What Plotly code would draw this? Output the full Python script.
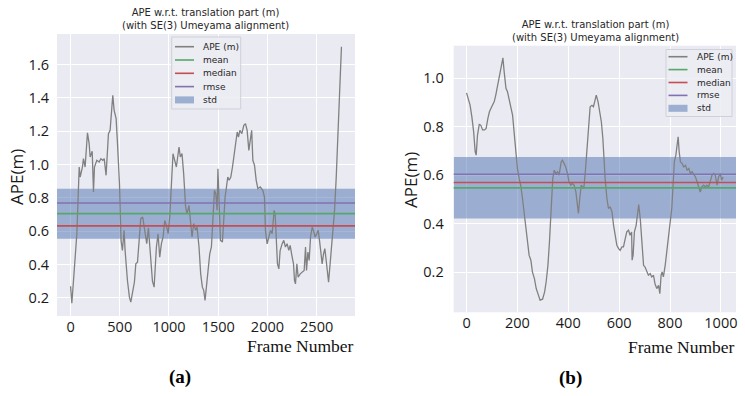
import plotly.graph_objects as go

# ---------------- data ----------------
frames_a = [0, 13, 30, 64, 88, 98, 121, 131, 148, 172, 189, 199, 220, 233, 243, 267, 291, 308, 328, 342,
            361, 385, 402, 415, 429, 443, 463, 477, 497, 513, 527, 544, 554, 578, 598, 612, 632, 649, 663,
            680, 697, 713, 733, 754, 774, 791, 808, 820, 832, 849, 872, 889, 906, 923, 940, 957, 974, 991,
            1008, 1025, 1041, 1058, 1075, 1102, 1115, 1132, 1149, 1169, 1183, 1203, 1217, 1234, 1251, 1271,
            1285, 1305, 1322, 1339, 1353, 1366, 1380, 1397, 1414, 1431, 1448, 1462, 1475, 1489, 1497, 1509,
            1523, 1543, 1556, 1570, 1584, 1597, 1611, 1628, 1645, 1662, 1679, 1693, 1706, 1720, 1740, 1760,
            1777, 1794, 1811, 1828, 1840, 1852, 1869, 1886, 1903, 1927, 1953, 1970, 1980, 1997, 2014, 2031,
            2048, 2068, 2078, 2089, 2102, 2116, 2129, 2150, 2166, 2183, 2200, 2217, 2231, 2248, 2265, 2275,
            2285, 2299, 2312, 2333, 2353, 2373, 2387, 2397, 2411, 2424, 2438, 2455, 2472, 2485, 2502, 2516,
            2529, 2543, 2556, 2570, 2583, 2597, 2610, 2621, 2634, 2648, 2665, 2682, 2699, 2716, 2733, 2752]
ape_a = [0.27, 0.168, 0.304, 0.584, 0.985, 0.925, 0.985, 1.035, 0.985, 1.19, 1.125, 1.045, 1.08, 0.835,
         0.985, 1.025, 1.015, 1.035, 1.025, 1.035, 0.935, 1.185, 1.205, 1.325, 1.415, 1.325, 1.275, 1.125,
         0.885, 0.545, 0.485, 0.605, 0.485, 0.304, 0.204, 0.174, 0.245, 0.295, 0.404, 0.414, 0.545, 0.675,
         0.685, 0.605, 0.525, 0.62, 0.50, 0.40, 0.30, 0.264, 0.505, 0.584, 0.444, 0.525, 0.565, 0.664,
         0.634, 0.585, 0.685, 0.885, 1.065, 1.025, 0.985, 1.105, 1.045, 1.065, 0.945, 0.745, 0.705, 0.755,
         0.665, 0.565, 0.645, 0.605, 0.625, 0.505, 0.344, 0.264, 0.245, 0.184, 0.264, 0.384, 0.464, 0.505,
         0.665, 0.845, 0.825, 0.725, 0.975, 0.705, 0.545, 0.535, 0.665, 0.805, 0.865, 0.925, 0.905, 0.925,
         0.985, 1.065, 1.145, 1.195, 1.165, 1.205, 1.185, 1.235, 1.245, 1.205, 1.085, 1.165, 1.205, 1.025,
         0.995, 0.905, 0.855, 0.865, 0.845, 0.805, 0.605, 0.524, 0.564, 0.604, 0.585, 0.725, 0.705, 0.585,
         0.404, 0.374, 0.484, 0.525, 0.545, 0.505, 0.525, 0.485, 0.515, 0.455, 0.404, 0.304, 0.284, 0.404,
         0.324, 0.344, 0.354, 0.364, 0.505, 0.364, 0.475, 0.424, 0.565, 0.625, 0.595, 0.565, 0.585, 0.605,
         0.545, 0.485, 0.404, 0.464, 0.495, 0.424, 0.324, 0.294, 0.384, 0.485, 0.565, 0.725, 0.925, 1.185,
         1.445, 1.706]

frames_b = [0, 14, 21, 28, 34, 38, 43, 50, 56, 63, 71, 77, 84, 90, 99, 109, 115, 122, 130, 135, 143, 148,
            155, 161, 168, 174, 181, 187, 194, 200, 207, 213, 220, 226, 233, 240, 246, 253, 259, 267, 274,
            283, 289, 299, 307, 313, 320, 326, 333, 339, 345, 351, 358, 364, 372, 377, 384, 390, 397, 403,
            410, 416, 423, 430, 436, 440, 445, 451, 456, 461, 467, 473, 480, 486, 493, 499, 504, 510, 517,
            523, 530, 536, 540, 545, 552, 558, 565, 572, 578, 585, 591, 598, 604, 611, 617, 624, 630, 637,
            643, 649, 651, 655, 660, 667, 673, 677, 683, 689, 696, 702, 709, 715, 722, 728, 735, 741, 748,
            755, 760, 765, 769, 774, 781, 787, 794, 800, 807, 812, 817, 823, 828, 832, 836, 841, 848, 854,
            861, 867, 874, 880, 887, 894, 900, 907, 913, 919, 925, 932, 939, 945, 952, 958, 965, 972, 978,
            985, 991, 998, 1003, 1009]
ape_b = [0.94, 0.89, 0.841, 0.779, 0.697, 0.683, 0.765, 0.81, 0.807, 0.787, 0.787, 0.793, 0.835, 0.862,
         0.883, 0.904, 0.931, 0.972, 1.014, 1.04, 1.085, 1.027, 0.959, 0.945, 0.91, 0.89, 0.848, 0.779,
         0.697, 0.628, 0.586, 0.559, 0.504, 0.449, 0.407, 0.338, 0.27, 0.249, 0.201, 0.173, 0.132, 0.104,
         0.084, 0.088, 0.118, 0.159, 0.228, 0.324, 0.449, 0.586, 0.621, 0.607, 0.614, 0.6, 0.655, 0.662,
         0.648, 0.634, 0.607, 0.572, 0.559, 0.566, 0.559, 0.531, 0.476, 0.442, 0.504, 0.559, 0.552, 0.545,
         0.614, 0.71, 0.806, 0.883, 0.889, 0.883, 0.904, 0.931, 0.904, 0.862, 0.821, 0.752, 0.655, 0.586,
         0.504, 0.463, 0.469, 0.449, 0.394, 0.352, 0.311, 0.297, 0.29, 0.304, 0.304, 0.338, 0.366, 0.373,
         0.352, 0.366, 0.249, 0.27, 0.366, 0.394, 0.463, 0.479, 0.421, 0.311, 0.228, 0.221, 0.201, 0.187,
         0.194, 0.18, 0.187, 0.152, 0.132, 0.145, 0.111, 0.187, 0.201, 0.18, 0.228, 0.283, 0.352, 0.394,
         0.463, 0.559, 0.655, 0.683, 0.724, 0.759, 0.697, 0.655, 0.648, 0.634, 0.641, 0.621, 0.628, 0.607,
         0.614, 0.6, 0.593, 0.572, 0.552, 0.531, 0.552, 0.559, 0.552, 0.559, 0.552, 0.572, 0.6, 0.607, 0.6,
         0.559, 0.593, 0.607, 0.579, 0.593]

stat_names = ["mean", "median", "rmse"]
stat_colors = ["#55A868", "#C44E52", "#8172B2"]
stats_a = [0.705, 0.632, 0.769]
std_a = 0.15
stats_b = [0.548, 0.570, 0.604]
std_b = 0.127

legend_labels = ["APE (m)", "mean", "median", "rmse", "std"]
ape_color = "#808080"
std_fill = "rgba(76,114,176,0.5)"

xticks_a = [0, 500, 1000, 1500, 2000, 2500]
yticks_a = [0.2, 0.4, 0.6, 0.8, 1.0, 1.2, 1.4, 1.6]
xticks_b = [0, 200, 400, 600, 800, 1000]
yticks_b = [0.2, 0.4, 0.6, 0.8, 1.0]

title_text = "APE w.r.t. translation part (m)<br>(with SE(3) Umeyama alignment)"
ylabel = "APE(m)"
xlabel = "Frame Number"
captions = ["(a)", "(b)"]

W, H = 745, 396


def pad(vals, frac=0.05):
    lo, hi = min(vals), max(vals)
    m = (hi - lo) * frac
    return [lo - m, hi + m]


def px(x):
    return x / W


def py(y):
    return 1 - y / H


fig = go.Figure()

panels = [
    dict(fr=frames_a, ape=ape_a, stats=stats_a, std=std_a, xs="x", ys="y",
         leg_box=(171.7, 37, 240.7, 109), leg_sx=(175, 194), leg_tx=201, leg_y0=46.7, leg_dy=13.3),
    dict(fr=frames_b, ape=ape_b, stats=stats_b, std=std_b, xs="x2", ys="y2",
         leg_box=(666, 49.5, 732, 116.5), leg_sx=(668.5, 687.5), leg_tx=694.5, leg_y0=56.7, leg_dy=12.9),
]

shapes = []
ann = []
leg_font = dict(family="DejaVu Sans", size=9, color="#262626")
for p in panels:
    xr = pad(p["fr"])
    mean = p["stats"][0]
    lo, hi = mean - p["std"], mean + p["std"]
    # std band (spans the full x range of the axes)
    fig.add_trace(go.Scatter(x=[xr[0], xr[1], xr[1], xr[0], xr[0]], y=[lo, lo, hi, hi, lo],
                             mode="lines", fill="toself", fillcolor=std_fill, line=dict(width=0),
                             name="std", xaxis=p["xs"], yaxis=p["ys"], showlegend=False, hoverinfo="skip"))
    fig.add_trace(go.Scatter(x=p["fr"], y=p["ape"], mode="lines", name="APE (m)",
                             line=dict(color=ape_color, width=1.3),
                             xaxis=p["xs"], yaxis=p["ys"], showlegend=False, hoverinfo="skip"))
    xref = p["xs"] + " domain"
    for nm, col, v in zip(stat_names, stat_colors, p["stats"]):
        shapes.append(dict(type="line", xref=xref, yref=p["ys"], x0=0, x1=1, y0=v, y1=v,
                           line=dict(color=col, width=1.6), layer="above"))
    # legend box
    bx0, by0, bx1, by1 = p["leg_box"]
    shapes.append(dict(type="rect", xref="paper", yref="paper", x0=px(bx0), x1=px(bx1),
                       y0=py(by1), y1=py(by0), fillcolor="rgba(236,236,243,0.85)",
                       line=dict(color="#d0d0d8", width=1), layer="above"))
    sx0, sx1 = p["leg_sx"]
    colors = [ape_color] + stat_colors
    for i, lab in enumerate(legend_labels):
        yc = p["leg_y0"] + i * p["leg_dy"]
        if i < 4:
            shapes.append(dict(type="line", xref="paper", yref="paper", x0=px(sx0), x1=px(sx1),
                               y0=py(yc), y1=py(yc), line=dict(color=colors[i], width=1.6), layer="above"))
        else:
            shapes.append(dict(type="rect", xref="paper", yref="paper", x0=px(sx0), x1=px(sx1),
                               y0=py(yc + 3.5), y1=py(yc - 3.5), fillcolor=std_fill,
                               line=dict(width=0), layer="above"))
        ann.append(dict(text=lab, x=px(p["leg_tx"]), y=py(yc), xref="paper", yref="paper",
                        xanchor="left", yanchor="middle", showarrow=False, font=leg_font))

tick_font = dict(family="Open Sans", size=14.5, color="#1a1a1a")
axis_common = dict(showgrid=True, gridcolor="white", gridwidth=1, zeroline=False, showline=False,
                   ticks="", tickfont=tick_font)

fig.update_layout(
    width=W, height=H,
    margin=dict(l=0, r=0, t=0, b=0),
    paper_bgcolor="white", plot_bgcolor="#EAEAF2",
    shapes=shapes,
    showlegend=False,
    hovermode=False,
    xaxis=dict(domain=[px(57), px(355)], range=pad(frames_a), tickvals=xticks_a, anchor="y", **axis_common),
    yaxis=dict(domain=[py(316), py(34)], range=pad(ape_a), tickvals=yticks_a, tickformat=".1f",
               anchor="x", ticklabelstandoff=7, **axis_common),
    xaxis2=dict(domain=[px(453.7), px(736)], range=pad(frames_b), tickvals=xticks_b, anchor="y2", **axis_common),
    yaxis2=dict(domain=[py(312.3), py(45.7)], range=pad(ape_b), tickvals=yticks_b, tickformat=".1f",
                anchor="x2", ticklabelstandoff=9, **axis_common),
)

title_font = dict(family="DejaVu Sans", size=10, color="#262626")
ann.append(dict(text=title_text, x=px(205), y=py(19), xref="paper", yref="paper",
                xanchor="center", yanchor="middle", showarrow=False, font=title_font))
ann.append(dict(text=title_text, x=px(595), y=py(31), xref="paper", yref="paper",
                xanchor="center", yanchor="middle", showarrow=False, font=title_font))
ylab_font = dict(family="Open Sans", size=17, color="#1a1a1a")
ann.append(dict(text=ylabel, x=px(16), y=py(177), xref="paper", yref="paper", textangle=-90,
                xanchor="center", yanchor="middle", showarrow=False, font=ylab_font))
ann.append(dict(text=ylabel, x=px(410), y=py(180), xref="paper", yref="paper", textangle=-90,
                xanchor="center", yanchor="middle", showarrow=False, font=ylab_font))
xlab_font = dict(family="Liberation Serif", size=17.5, color="#111111")
ann.append(dict(text=xlabel, x=px(356), y=py(346), xref="paper", yref="paper",
                xanchor="right", yanchor="middle", showarrow=False, font=xlab_font))
ann.append(dict(text=xlabel, x=px(737), y=py(347), xref="paper", yref="paper",
                xanchor="right", yanchor="middle", showarrow=False, font=xlab_font))
cap_font = dict(family="Liberation Serif", size=19, color="#000000")
ann.append(dict(text="<b>" + captions[0] + "</b>", x=px(180), y=py(377), xref="paper", yref="paper",
                xanchor="center", yanchor="middle", showarrow=False, font=cap_font))
ann.append(dict(text="<b>" + captions[1] + "</b>", x=px(570), y=py(378), xref="paper", yref="paper",
                xanchor="center", yanchor="middle", showarrow=False, font=cap_font))
fig.update_layout(annotations=ann)

fig.write_html("out.html", config={"displayModeBar": False, "staticPlot": True},
               post_script="document.body.style.margin='0';document.body.style.overflow='hidden';")
